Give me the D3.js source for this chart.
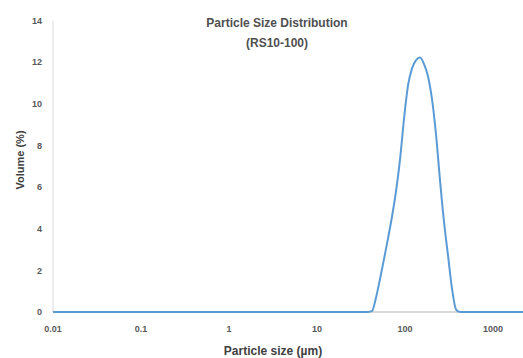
<!DOCTYPE html>
<html><head><meta charset="utf-8">
<script src="https://cdn.jsdelivr.net/npm/d3@7"></script>
<style>
html,body{margin:0;padding:0;background:#fff;}
svg{display:block;}
text{font-family:"Liberation Sans",Arial,sans-serif;}
</style></head>
<body>
<script>
const titleLines = ["Particle Size Distribution", "(RS10-100)"];
const xTitle = "Particle size (\u00b5m)";
const yTitle = "Volume (%)";
const xTicks = [0.01, 0.1, 1, 10, 100, 1000];
const xTickLabels = ["0.01", "0.1", "1", "10", "100", "1000"];
const yTicks = [0, 2, 4, 6, 8, 10, 12, 14];
const sizes  = [0.01, 37.97, 42.2, 46.8, 52.0, 57.7, 64.1, 71.2, 79.0, 87.8, 97.4, 108.2, 120.1, 133.4, 148.1, 164.4, 182.6, 202.7, 225.1, 249.9, 277.5, 308.1, 342.1, 379.8, 421.7, 2188];
const volume = [0,    0,     0.05, 0.7,  1.6,  2.55, 3.55, 4.6,  5.8,  7.35, 9.3,  10.9,  11.7,  12.1,  12.22, 11.9,  11.3,  10.2,  8.5,   6.3,   4.3,   2.7,   1.1,   0.12,  0,     0];

const W = 523, H = 358;
const svg = d3.select("body").append("svg").attr("width", W).attr("height", H);

const x = d3.scaleLog().domain([0.01, 2188]).range([53, 523]);
const y = d3.scaleLinear().domain([0, 14]).range([312, 20.5]);

// title
svg.append("g").selectAll("text").data(titleLines).join("text")
  .attr("x", 277).attr("y", (d, i) => 27 + i * 20)
  .attr("text-anchor", "middle").attr("font-size", 12).attr("font-weight", "bold")
  .attr("fill", "#505050").text(d => d);

// y axis line
svg.append("line").attr("x1", 53).attr("x2", 53).attr("y1", y(14)).attr("y2", y(0))
  .attr("stroke", "#d9d9d9").attr("stroke-width", 1);
// x axis line
svg.append("line").attr("x1", x.range()[0]).attr("x2", x.range()[1]).attr("y1", y(0)).attr("y2", y(0))
  .attr("stroke", "#d9d9d9").attr("stroke-width", 2);

// y tick labels
svg.append("g").selectAll("text").data(yTicks).join("text")
  .attr("x", 42).attr("y", d => y(d)).attr("dy", "0.35em")
  .attr("text-anchor", "end").attr("font-size", 9).attr("font-weight", "bold")
  .attr("fill", "#595959").text(d => d);

// x tick labels
svg.append("g").selectAll("text").data(xTicks).join("text")
  .attr("x", d => x(d)).attr("y", 332)
  .attr("text-anchor", "middle").attr("font-size", 9).attr("font-weight", "bold")
  .attr("fill", "#595959").text((d, i) => xTickLabels[i]);

// axis titles
svg.append("text").attr("x", 273).attr("y", 355).attr("text-anchor", "middle")
  .attr("font-size", 12).attr("font-weight", "bold").attr("fill", "#404040").text(xTitle);
svg.append("text").attr("transform", "translate(24,160) rotate(-90)").attr("text-anchor", "middle")
  .attr("font-size", 11).attr("font-weight", "bold").attr("fill", "#404040").text(yTitle);

// line
const data = sizes.map((s, i) => [s, volume[i]]);
svg.append("path").datum(data)
  .attr("fill", "none").attr("stroke", "#5b9bd5").attr("stroke-width", 2)
  .attr("d", d3.line().x(d => x(d[0])).y(d => y(d[1])).curve(d3.curveMonotoneX));
</script>
</body></html>
